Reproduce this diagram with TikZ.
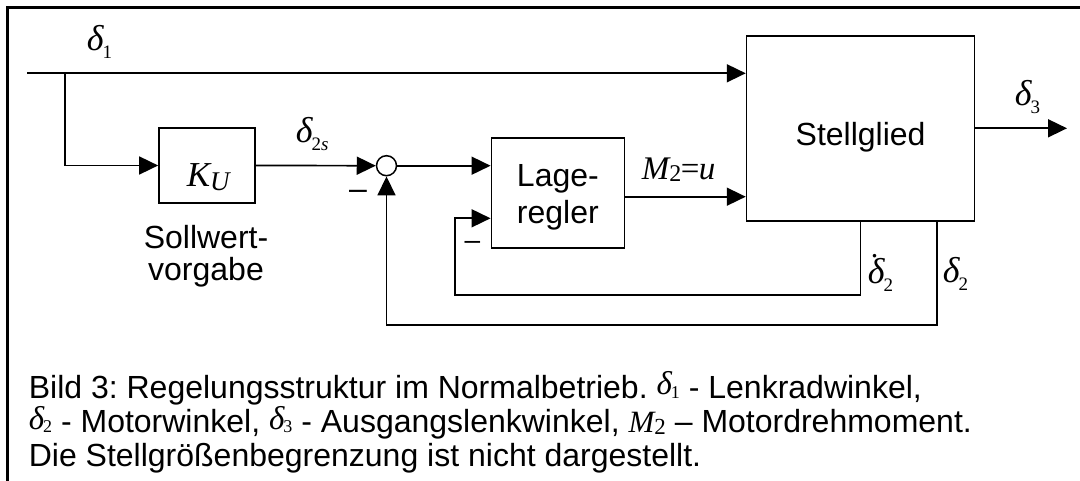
\documentclass[tikz,border=0pt]{standalone}
\usepackage{fontspec}
\setmainfont{Liberation Sans}
\newfontfamily\tms{Liberation Serif}
\usetikzlibrary{arrows.meta}
\frenchspacing
\newcommand\fsz[1]{\fontsize{#1}{#1}\selectfont}
% diagram delta with subscript
\newcommand\dsub[1]{{\fsz{36}\tms\itshape δ}\kern-1pt\raisebox{-8pt}{\fsz{19}\tms #1}}
% caption delta
\newcommand\cdel[1]{\raisebox{3pt}{\fsz{33}\tms\itshape δ}\kern-1pt{\fsz{18}\tms #1}}
\begin{document}
\begin{tikzpicture}[x=1pt,y=-1pt,line width=1.7pt,
  arr/.style={-{Triangle[length=19pt,width=18pt]}},
  blk/.style={draw,rectangle,inner sep=0pt,line width=1.7pt},
  txt/.style={inner sep=0pt,font=\fontsize{32}{34}\selectfont},
  frame/.style={line width=2.6pt}]
\useasboundingbox (0,0) rectangle (1080,481);
% frame
\draw[frame] (7.5,481) -- (7.5,7.5) -- (1080,7.5);
% blocks
\node[blk,minimum width=96pt,minimum height=74.4pt] (ku) at (207,165.5) {};
\node[draw,circle,inner sep=0pt,minimum size=20pt,line width=1.5pt] (sum) at (386.5,165.7) {};
\node[blk,minimum width=133pt,minimum height=109.7pt] (lr) at (557.9,193.2) {};
\node[blk,minimum width=228pt,minimum height=185pt] (st) at (860.6,128.5) {};
% texts in blocks
\node[txt,anchor=base west] (kut) at (186,187) {{\fsz{35}\tms\itshape K}\raisebox{-4pt}{\fsz{27}\tms\itshape U}};
\node[txt,anchor=base] (lrt1) at (557.9,186.7) {Lage-};
\node[txt,anchor=base] (lrt2) at (557.9,223.3) {regler};
\node[txt,anchor=base] (stt) at (860.6,146) {Stellglied};
\node[txt,anchor=base] (sw1) at (206,249) {Sollwert-};
\node[txt,anchor=base] (sw2) at (206,281) {vorgabe};
% coordinates
\coordinate (in) at (27,73.3);
\coordinate (br) at (65,73.3);
\coordinate (mu) at (0,196.7);
\coordinate (out) at (1067,128.3);
\coordinate (fb) at (0,218.3);
\coordinate (il) at (455,295.3);
\coordinate (ol) at (937,325.3);
% connectors
\draw[arr] (in) -- (in -| st.west);
\draw[arr] (br) |- (ku.west);
\draw[arr] (ku.east) -- (sum.west);
\draw[arr] (sum.east) -- (sum.east -| lr.west);
\draw[arr] (lr.east |- mu) -- (st.west |- mu);
\draw[arr] (st.east |- out) -- (out);
\draw[arr] (st.south) |- (il) |- (lr.west |- fb);
\draw[arr] (st.south -| ol) |- (sum.south |- ol) -- (sum.south);
% signal labels
\node[txt,anchor=base west] (d1) at (86,51) {\dsub{1}};
\node[txt,anchor=base west] (d2s) at (295,143) {{\fsz{36}\tms\itshape δ}\kern-1pt\raisebox{-8pt}{\fsz{19}\tms 2\itshape s}};
\node[txt,anchor=base west] (d3) at (1014,106) {\dsub{3}};
\node[txt,anchor=base west] (mul) at (641,180) {\fsz{33}\tms{\itshape M}\raisebox{-2pt}{\fsz{24}2}\kern-0.5pt=\kern-0.5pt{\itshape u}};
\node[txt,anchor=base west] (d2d) at (867,284) {\rlap{\kern3pt\raisebox{26pt}{\fsz{30}\tms .}}\dsub{2}};
\node[txt,anchor=base west] (d2) at (942,283) {\dsub{2}};
\node[txt,anchor=base] (m1) at (358,200) {–};
\node[txt,anchor=base] (m2) at (472.5,249.5) {\fsz{28}–};
% caption
\node[txt,anchor=base west] (c1) at (28,398) {Bild 3: Regelungsstruktur im Normalbetrieb. \cdel{1} - Lenkradwinkel,};
\node[txt,anchor=base west] (c2) at (28,432) {\cdel{2} - Motorwinkel, \cdel{3} - Ausgangslenkwinkel, {\fsz{31}\tms\itshape M}\raisebox{-2pt}{\fsz{23}\tms 2} – Motordrehmoment.};
\node[txt,anchor=base west] (c3) at (28,466) {Die Stellgrößenbegrenzung ist nicht dargestellt.};
\end{tikzpicture}
\end{document}
